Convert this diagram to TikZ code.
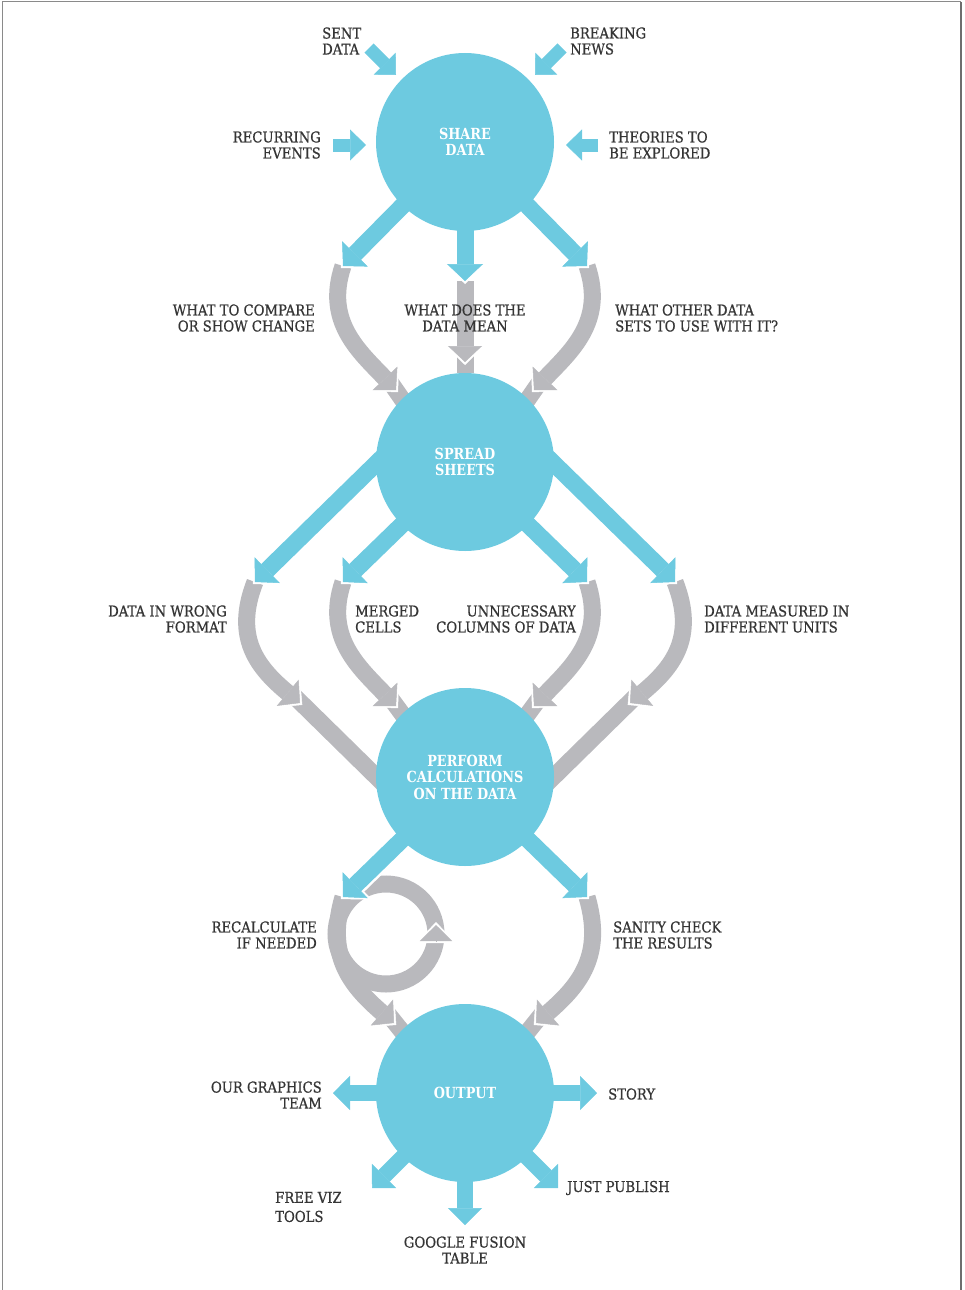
\documentclass[tikz,border=0pt]{standalone}
\usepackage{fontspec}
\setmainfont{DejaVu Serif}[FakeStretch=0.9]
\newfontfamily\lblfont{DejaVu Serif}[FakeStretch=0.88,FakeBold=0.7]
\newfontfamily\hubfont{DejaVu Serif}[FakeStretch=0.84]
\usetikzlibrary{arrows.meta}
\pgfdeclarelayer{bg}
\pgfsetlayers{bg,main}
\definecolor{cblue}{HTML}{6DCAE0}
\definecolor{cgray}{HTML}{B9B9BD}
\definecolor{ctext}{HTML}{353535}
\definecolor{cframe}{HTML}{8A8A8A}
\tikzset{
  hub/.style={circle, fill=cblue, minimum size=178pt, inner sep=0pt, text=white, align=center, font=\hubfont\bfseries\fontsize{15.3}{16.5}\selectfont},
  lbl/.style={text=ctext, inner sep=0pt, font=\lblfont\fontsize{15}{16}\selectfont},
  smallin/.style={draw=cblue, line width=13pt, -{Triangle[width=31pt,length=16pt,line width=0.5pt]}},
  bigout/.style={draw=cblue, line width=17pt, -{Triangle[width=36pt,length=17pt,line width=0.5pt]}},
  bhalo/.style={draw=white, line width=22pt, shorten >=-3pt, -{Triangle[width=44pt,length=22pt,line width=0.5pt]}},
  smallout/.style={draw=cblue, line width=16pt, -{Triangle[width=34pt,length=17pt,line width=0.5pt]}},
  gtail/.style={draw=cgray, line width=17pt},
  ghalo/.style={draw=white, line width=22pt, shorten >=-3pt, -{Triangle[width=42pt,length=21pt,line width=0.5pt]}},
  gband/.style={draw=cgray, line width=17pt, -{Triangle[width=34pt,length=16pt,line width=0.5pt]}},
  rhalo/.style={draw=white, line width=0pt, shorten >=-3pt, -{Triangle[width=40pt,length=21pt,line width=0.5pt]}},
  rhead/.style={draw=cgray, line width=0pt, -{Triangle[width=32pt,length=16pt,line width=0.5pt]}},
}
\begin{document}
\begin{tikzpicture}[x=1pt,y=-1pt]
\useasboundingbox (0,0) rectangle (964,1290);
\draw[cframe, line width=1pt] (2,1290) -- (2,2) -- (961,2);
\draw[cframe!80!black, line width=2pt] (961,2) -- (961,1290);

% hubs
\node[hub] (c1) at (465,142) {SHARE\\DATA};
\node[hub] (c2) at (465,462) {SPREAD\\SHEETS};
\node[hub] (c3) at (465,777) {PERFORM\\CALCULATIONS\\ON THE DATA};
\node[hub] (c4) at (465,1093) {OUTPUT};

% coordinates
\coordinate (i1s) at (369,48);  \coordinate (i1t) at (396,75);
\coordinate (i2s) at (562,48);  \coordinate (i2t) at (535,75);
\coordinate (i3s) at (333,145); \coordinate (i3t) at (366,145);
\coordinate (i4s) at (598,145); \coordinate (i4t) at (566,145);

\coordinate (a1s) at (420,188); \coordinate (a1t) at (343,266);
\coordinate (a2s) at (465,200); \coordinate (a2t) at (465,281);
\coordinate (a3s) at (510,188); \coordinate (a3t) at (587,266);

\coordinate (b1s) at (392,448); \coordinate (b1t) at (255,582);
\coordinate (b2s) at (415,512); \coordinate (b2t) at (343,582);
\coordinate (b3s) at (515,512); \coordinate (b3t) at (587,582);
\coordinate (b4s) at (538,448); \coordinate (b4t) at (675,582);

\coordinate (d1s) at (415,827); \coordinate (d1t) at (343,897);
\coordinate (d2s) at (515,827); \coordinate (d2t) at (587,897);

\coordinate (e1s) at (400,1093); \coordinate (e1t) at (333,1093);
\coordinate (e2s) at (530,1093); \coordinate (e2t) at (597,1093);
\coordinate (e3s) at (420,1140); \coordinate (e3t) at (372,1188);
\coordinate (e4s) at (465,1150); \coordinate (e4t) at (465,1225);
\coordinate (e5s) at (510,1140); \coordinate (e5t) at (558,1188);

% gray arrow heads and tail ends
\coordinate (g1h) at (396,390); \coordinate (g1b) at (386,376); \coordinate (g1e) at (420,425);
\coordinate (g2h) at (465,362); \coordinate (g2b) at (465,350);
\coordinate (g3h) at (534,390); \coordinate (g3b) at (544,376); \coordinate (g3e) at (510,425);

\coordinate (k1h) at (300,703); \coordinate (k1b) at (290,692); \coordinate (k1e) at (400,800);
\coordinate (k2h) at (396,706); \coordinate (k2b) at (386,692); \coordinate (k2e) at (425,745);
\coordinate (k3h) at (534,706); \coordinate (k3b) at (544,692); \coordinate (k3e) at (505,745);
\coordinate (k4h) at (630,703); \coordinate (k4b) at (640,692); \coordinate (k4e) at (530,800);

\coordinate (m1h) at (394,1023); \coordinate (m1b) at (384,1009); \coordinate (m1e) at (425,1060);
\coordinate (m2h) at (536,1023); \coordinate (m2b) at (546,1009); \coordinate (m2e) at (505,1060);

\coordinate (rc) at (386,934);
\coordinate (rhs) at (436,941); \coordinate (rht) at (436,925);

\begin{pgfonlayer}{bg}
  % tails
  \draw[gtail] (g1b) -- (g1e);
  \draw[gtail] (g2b) -- (c2);
  \draw[gtail] (g3b) -- (g3e);
  \draw[gtail] (k1b) -- (k1e);
  \draw[gtail] (k2b) -- (k2e);
  \draw[gtail] (k3b) -- (k3e);
  \draw[gtail] (k4b) -- (k4e);
  \draw[gtail] (m1b) -- (m1e);
  \draw[gtail] (m2b) -- (m2e);
  % halos
  \draw[ghalo] (a1t) .. controls (324,322) and (360,352) .. (g1h);
  \draw[ghalo] (a2t) -- (g2h);
  \draw[ghalo] (a3t) .. controls (606,322) and (570,352) .. (g3h);
  \draw[ghalo] (b1t) .. controls (233,638) and (258,668) .. (k1h);
  \draw[ghalo] (b2t) .. controls (324,638) and (360,668) .. (k2h);
  \draw[ghalo] (b3t) .. controls (606,638) and (570,668) .. (k3h);
  \draw[ghalo] (b4t) .. controls (697,638) and (672,668) .. (k4h);
  \draw[ghalo] (d1t) .. controls (326,955) and (350,985) .. (m1h);
  \draw[ghalo] (d2t) .. controls (604,955) and (580,985) .. (m2h);
  % loop ring
  \draw[cgray, line width=17pt] (rc) circle[radius=50pt];
  % gray bands
  \draw[gband] (a1t) .. controls (324,322) and (360,352) .. (g1h);
  \draw[gband] (a2t) -- (g2h);
  \draw[gband] (a3t) .. controls (606,322) and (570,352) .. (g3h);
  \draw[gband] (b1t) .. controls (233,638) and (258,668) .. (k1h);
  \draw[gband] (b2t) .. controls (324,638) and (360,668) .. (k2h);
  \draw[gband] (b3t) .. controls (606,638) and (570,668) .. (k3h);
  \draw[gband] (b4t) .. controls (697,638) and (672,668) .. (k4h);
  \draw[gband] (d1t) .. controls (326,955) and (350,985) .. (m1h);
  \draw[gband] (d2t) .. controls (604,955) and (580,985) .. (m2h);
  % loop head
  \draw[rhalo] (rhs) -- (rht);
  \draw[rhead] (rhs) -- (rht);
  % blue arrows
  \draw[smallin] (i1s) -- (i1t);
  \draw[smallin] (i2s) -- (i2t);
  \draw[smallin] (i3s) -- (i3t);
  \draw[smallin] (i4s) -- (i4t);
  \foreach \p in {a1,a2,a3,b1,b2,b3,b4,d1,d2}{
    \draw[bhalo] (\p s) -- (\p t);
  }
  \foreach \p in {a1,a2,a3,b1,b2,b3,b4,d1,d2}{
    \draw[bigout] (\p s) -- (\p t);
  }
  \draw[smallout] (e1s) -- (e1t);
  \draw[smallout] (e2s) -- (e2t);
  \draw[smallout] (e3s) -- (e3t);
  \draw[smallout] (e4s) -- (e4t);
  \draw[smallout] (e5s) -- (e5t);
\end{pgfonlayer}

% labels
\node[lbl, anchor=west, align=left] (l1) at (322,41) {SENT\\DATA};
\node[lbl, anchor=west, align=left] (l2) at (570,41) {BREAKING\\NEWS};
\node[lbl, anchor=east, align=right] (l3) at (321,145) {RECURRING\\EVENTS};
\node[lbl, anchor=west, align=left] (l4) at (609,145) {THEORIES TO\\BE EXPLORED};
\node[lbl, anchor=east, align=right] (l5) at (315,318) {WHAT TO COMPARE\\OR SHOW CHANGE};
\node[lbl, align=center] (l6) at (465,318) {WHAT DOES THE\\DATA MEAN};
\node[lbl, anchor=west, align=left] (l7) at (615,318) {WHAT OTHER DATA\\SETS TO USE WITH IT?};
\node[lbl, anchor=east, align=right] (l8) at (227,619) {DATA IN WRONG\\FORMAT};
\node[lbl, anchor=west, align=left] (l9) at (355,619) {MERGED\\CELLS};
\node[lbl, anchor=east, align=right] (l10) at (576,619) {UNNECESSARY\\COLUMNS OF DATA};
\node[lbl, anchor=west, align=left] (l11) at (704,619) {DATA MEASURED IN\\DIFFERENT UNITS};
\node[lbl, anchor=east, align=right] (l12) at (317,935) {RECALCULATE\\IF NEEDED};
\node[lbl, anchor=west, align=left] (l13) at (613,935) {SANITY CHECK\\THE RESULTS};
\node[lbl, anchor=east, align=right] (l14) at (322,1095) {OUR GRAPHICS\\TEAM};
\node[lbl, anchor=west] (l15) at (608,1094) {STORY};
\node[lbl, anchor=west, align=left, font=\lblfont\fontsize{15}{19}\selectfont] (l16) at (275,1207) {FREE VIZ\\TOOLS};
\node[lbl, anchor=west] (l17) at (567,1188) {JUST PUBLISH};
\node[lbl, align=center] (l18) at (465,1250) {GOOGLE FUSION\\TABLE};
\end{tikzpicture}
\end{document}
